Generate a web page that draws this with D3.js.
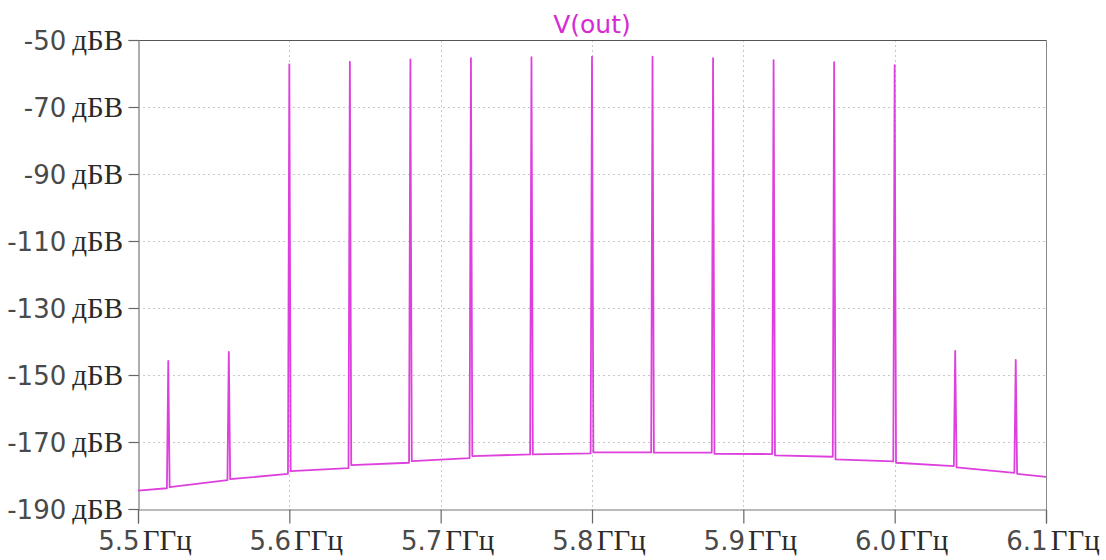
<!DOCTYPE html>
<html>
<head>
<meta charset="utf-8">
<script src="https://cdn.jsdelivr.net/npm/d3@7"></script>
<style>
  html, body { margin: 0; padding: 0; background: #fff; }
  svg { display: block; }
</style>
</head>
<body>
<svg id="chart" width="1106" height="560"></svg>
<script>
// ---- data ----
const title = "V(out)";
const xTicks = [5.5, 5.6, 5.7, 5.8, 5.9, 6.0, 6.1];
const xTickLabels = ["5.5", "5.6", "5.7", "5.8", "5.9", "6.0", "6.1"];
const xUnit = "ГГц";
const yTicks = [-50, -70, -90, -110, -130, -150, -170, -190];
const yUnit = "дБВ";

const spikeFreqs  = [5.52, 5.56, 5.60, 5.64, 5.68, 5.72, 5.76, 5.80, 5.84, 5.88, 5.92, 5.96, 6.00, 6.04, 6.08];
const spikePeaks  = [-145.8, -143.1, -57.3, -56.5, -55.8, -55.4, -55.1, -55.0, -55.0, -55.4, -56.0, -56.6, -57.5, -142.8, -145.5];
const floorBefore = [-183.8, -181.4, -179.5, -177.8, -176.2, -174.8, -173.7, -173.4, -173.1, -173.2, -173.6, -174.4, -175.8, -177.2, -179.2];
const floorAfter  = [-183.5, -181.1, -178.7, -176.9, -175.7, -174.2, -173.7, -173.1, -173.2, -173.5, -174.0, -175.2, -176.2, -177.6, -179.5];
const floorStart = [5.5, -184.5];
const floorEnd   = [6.1, -180.4];
const spikeHalfWidth = 0.0009; // GHz

// ---- build the trace ----
const trace = [floorStart];
spikeFreqs.forEach((f, i) => {
  trace.push([f - spikeHalfWidth, floorBefore[i]]);
  trace.push([f, spikePeaks[i]]);
  trace.push([f + spikeHalfWidth, floorAfter[i]]);
});
trace.push(floorEnd);

// ---- layout ----
const svg = d3.select("#chart");
const mLeft = 138, mRight = 1046, mTop = 40, mBottom = 509;
const x = d3.scaleLinear().domain([5.5, 6.1]).range([mLeft, mRight]);
const y = d3.scaleLinear().domain([-190, -50]).range([mBottom, mTop]);

const sansFont = "DejaVu Sans, sans-serif";
const serifFont = "Liberation Serif, Times New Roman, serif";

// grid
const grid = svg.append("g");
grid.selectAll("line.vg").data(xTicks.slice(1, -1)).join("line")
  .attr("x1", d => Math.round(x(d)) + 0.5).attr("x2", d => Math.round(x(d)) + 0.5)
  .attr("y1", mTop).attr("y2", mBottom)
  .attr("stroke", "#c8c8c8").attr("stroke-width", 1).attr("stroke-dasharray", "2,3");
grid.selectAll("line.hg").data(yTicks.slice(1, -1)).join("line")
  .attr("y1", d => Math.round(y(d)) + 0.5).attr("y2", d => Math.round(y(d)) + 0.5)
  .attr("x1", mLeft).attr("x2", mRight)
  .attr("stroke", "#c8c8c8").attr("stroke-width", 1).attr("stroke-dasharray", "2,3");

// frame
svg.append("line").attr("x1", mLeft).attr("x2", mRight).attr("y1", mTop + 0.5).attr("y2", mTop + 0.5)
  .attr("stroke", "#555").attr("stroke-width", 1.2);
svg.append("line").attr("x1", mRight + 0.5).attr("x2", mRight + 0.5).attr("y1", mTop).attr("y2", mBottom)
  .attr("stroke", "#888").attr("stroke-width", 1);

// y axis
const yAxis = d3.axisLeft(y).tickValues(yTicks).tickSize(10).tickFormat(() => "");
const gy = svg.append("g").attr("transform", `translate(${mLeft + 0.5},0)`).call(yAxis);
gy.select(".domain").attr("stroke", "#777").attr("stroke-width", 1.2);
gy.selectAll(".tick line").attr("stroke", "#666").attr("stroke-width", 1.2);
const yLab = svg.append("g").selectAll("text").data(yTicks).join("text")
  .attr("x", 123).attr("y", d => y(d) + 10)
  .attr("text-anchor", "end");
yLab.append("tspan").attr("font-family", sansFont).attr("font-size", 26).attr("fill", "#4a4a4a").text(d => String(d));
yLab.append("tspan").attr("dx", 6).attr("font-family", serifFont).attr("font-size", 29).attr("fill", "#2a2a2a").text(yUnit);

// x axis
const xAxis = d3.axisBottom(x).tickValues(xTicks).tickSize(14).tickFormat(() => "");
const gx = svg.append("g").attr("transform", `translate(0,${mBottom + 0.5})`).call(xAxis);
gx.select(".domain").attr("stroke", "#777").attr("stroke-width", 1.2);
gx.selectAll(".tick line").attr("stroke", "#666").attr("stroke-width", 1.2);
const xLab = svg.append("g").selectAll("text").data(xTicks).join("text")
  .attr("x", d => x(d) + 7).attr("y", 550)
  .attr("text-anchor", "middle");
xLab.append("tspan").attr("font-family", sansFont).attr("font-size", 26).attr("fill", "#4a4a4a").text((d, i) => xTickLabels[i]);
xLab.append("tspan").attr("dx", 3).attr("font-family", serifFont).attr("font-size", 29).attr("fill", "#2a2a2a").text(xUnit);

// trace
const line = d3.line().x(d => x(d[0])).y(d => y(d[1]));
svg.append("path").datum(trace)
  .attr("d", line)
  .attr("fill", "none")
  .attr("stroke", "#de40de")
  .attr("stroke-width", 1.8)
  .attr("stroke-linejoin", "round");

// title
svg.append("text").attr("x", (mLeft + mRight) / 2).attr("y", 33)
  .attr("text-anchor", "middle")
  .attr("font-family", sansFont).attr("font-size", 25)
  .attr("fill", "#d42ad4").text(title);
</script>
</body>
</html>
